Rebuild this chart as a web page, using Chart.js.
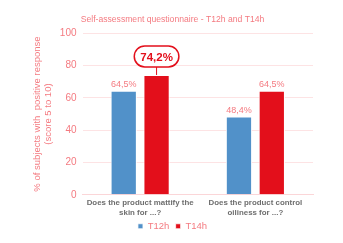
<!DOCTYPE html>
<html>
<head>
<meta charset="utf-8">
<script src="https://cdn.jsdelivr.net/npm/chart.js@4"></script>
<style>
  html, body { margin: 0; padding: 0; background: #fff; }
  #wrap { width: 343px; height: 243px; }
</style>
</head>
<body>
<div id="wrap"><canvas id="chart"></canvas></div>
<script>
// ─── DATA ───
const CATEGORIES = [['Does the product mattify the', 'skin for ...?'], ['Does the product control', 'oiliness for ...?']];
const T12H = [64.5, 48.4];
const T14H = [74.2, 64.5];
const Y_TICKS = [0, 20, 40, 60, 80, 100];
const HIGHLIGHT = { dataset: 1, index: 0 }; // boxed value

const PINK = '#f47a80';
const FONT = '"Liberation Sans", Arial, sans-serif';
const fmt = v => v.toFixed(1).replace('.', ',') + '%';

// value labels above bars, one of them in a rounded box
const valueLabels = {
  id: 'valueLabels',
  afterDatasetsDraw(chart) {
    const ctx = chart.ctx;
    ctx.save();
    ctx.textAlign = 'center';
    chart.data.datasets.forEach((ds, di) => {
      chart.getDatasetMeta(di).data.forEach((bar, i) => {
        const v = ds.data[i];
        if (di === HIGHLIGHT.dataset && i === HIGHLIGHT.index) {
          const cy = bar.y - 18.5;
          ctx.strokeStyle = '#e30f1b';
          ctx.lineWidth = 1;
          ctx.beginPath();
          ctx.moveTo(bar.x, bar.y);
          ctx.lineTo(bar.x, cy + 10.5);
          ctx.stroke();
          ctx.font = 'bold 11.5px ' + FONT;
          const w = ctx.measureText(fmt(v)).width + 12;
          ctx.lineWidth = 1.5;
          ctx.beginPath();
          ctx.roundRect(bar.x - w / 2, cy - 10.5, w, 21, 10.5);
          ctx.fillStyle = '#fff';
          ctx.fill();
          ctx.stroke();
          ctx.fillStyle = '#e30f1b';
          ctx.textBaseline = 'middle';
          ctx.fillText(fmt(v), bar.x, cy + 1);
        } else {
          ctx.font = '9px ' + FONT;
          ctx.fillStyle = PINK;
          ctx.textBaseline = 'bottom';
          ctx.fillText(fmt(v), bar.x, bar.y - 2);
        }
      });
    });
    ctx.restore();
  }
};

new Chart(document.getElementById('chart'), {
  type: 'bar',
  data: {
    labels: CATEGORIES,
    datasets: [
      { label: 'T12h', data: T12H, backgroundColor: '#5191c9', borderColor: '#ffffff', borderWidth: { left: 1, right: 1, top: 1 } },
      { label: 'T14h', data: T14H, backgroundColor: '#e30f1b', borderColor: '#ffffff', borderWidth: { left: 1, right: 1, top: 1 } },
    ],
  },
  options: {
    responsive: true, maintainAspectRatio: false, animation: false,
    layout: { padding: { left: 32, right: 30, top: 14, bottom: 2 } },
    datasets: { bar: { categoryPercentage: 0.57, barPercentage: 0.8 } },
    plugins: {
      title: {
        display: true, text: 'Self-assessment questionnaire - T12h and T14h',
        color: PINK, font: { size: 8.6, weight: 'normal', family: FONT },
        padding: { top: 0, bottom: 9 },
      },
      legend: {
        position: 'bottom',
        labels: {
          color: PINK, font: { size: 9.5, family: FONT }, boxWidth: 5, boxHeight: 5, padding: 1,
          // a little extra room between the two legend items
          generateLabels: chart => Chart.defaults.plugins.legend.labels.generateLabels(chart)
            .map((l, i) => (i === 0 ? { ...l, text: l.text + '  ' } : l)),
        },
      },
      tooltip: { enabled: false },
    },
    scales: {
      x: {
        grid: { display: false, drawTicks: false },
        border: { color: '#fbd6d8' },
        ticks: { color: '#6e6e6e', font: { size: 7.9, weight: 'bold', family: FONT, lineHeight: 1.25 }, autoSkip: false, maxRotation: 0, padding: 3 },
      },
      y: {
        min: 0, max: 100,
        afterBuildTicks: axis => { axis.ticks = Y_TICKS.map(v => ({ value: v })); },
        grid: { color: '#fde3e4', drawTicks: false },
        border: { display: false },
        ticks: { color: PINK, font: { size: 10, family: FONT }, padding: 6 },
        title: {
          display: true, text: ['% of subjects with  positive response', '(score 5 to 10)'],
          color: PINK, font: { size: 9.5, family: FONT, lineHeight: 1.15 }, padding: { top: 0, bottom: 0 },
        },
      },
    },
  },
  plugins: [valueLabels],
});
</script>
</body>
</html>
